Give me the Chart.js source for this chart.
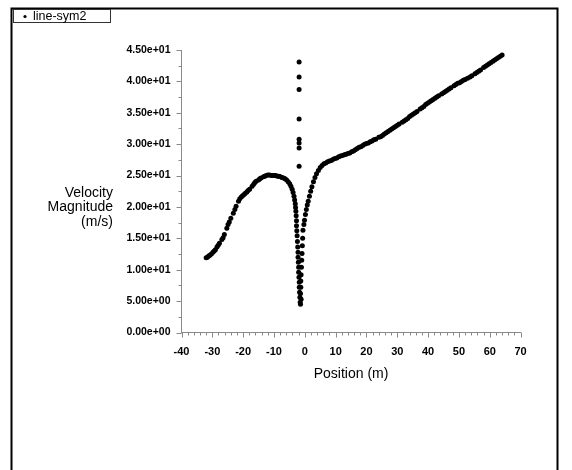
<!DOCTYPE html>
<html>
<head>
<meta charset="utf-8">
<script src="https://cdn.jsdelivr.net/npm/chart.js@4.4.1/dist/chart.umd.min.js"></script>
<style>
  body { margin: 0; background: #fff; }
  #wrap { position: relative; width: 572px; height: 470px; }
</style>
</head>
<body>
<div id="wrap"><canvas id="velChart" width="572" height="470"></canvas></div>
<script>
// position (m) / velocity magnitude (m/s)
const curveX = [
  -32.0, -31.6, -31.2, -30.8, -30.3, -29.8, -29.4, -29.0, -28.5, -28.1, -27.7, -26.9, -26.5, -26.1,
  -25.3, -24.9, -24.5, -24.0, -23.2, -22.7, -22.3, -21.5, -21.1, -20.6, -20.2, -19.7, -19.3, -18.8,
  -18.4, -17.9, -17.1, -16.6, -16.2, -15.8, -15.0, -14.6, -14.2, -13.4, -13.0, -12.5, -12.0, -11.4,
  -10.9, -10.4, -9.9, -9.4, -8.9, -8.4, -7.9, -7.4, -6.9, -6.4, -5.9, -5.4, -4.9, -4.5, -4.1, -3.8,
  -3.5, -3.3, -3.1, -3.0,
  -2.9, -2.8, -2.7, -2.7, -2.6, -2.5, -2.4, -2.3, -2.2, -2.2, -2.1, -2.0, -2.0, -1.9, -1.8, -1.8,
  -1.7, -1.6, -1.5, -1.4,
  -0.6, -0.7, -0.8, -0.9, -1.0, -1.1, -1.2, -1.3, -1.3, -1.4, -1.2,
  -0.3, -0.1, 0.2, 0.5, 0.8, 1.1, 1.5, 1.9, 2.3, 2.8, 3.3, 3.8, 4.4, 5.0, 5.6, 6.2, 6.8, 7.4, 8.0,
  8.6, 9.2, 9.8, 10.4, 11.0, 11.6, 12.2, 12.8, 13.4, 14.0, 14.6, 15.2, 15.8, 16.4, 17.0, 17.6, 18.2,
  18.8, 19.4, 20.0, 20.6, 21.2, 21.8, 22.4, 23.0, 24.0, 24.6, 25.2, 25.8, 26.4, 27.0, 27.6, 28.2,
  28.8, 29.4, 30.0, 30.6, 31.6, 32.2, 32.8, 33.4, 34.0, 34.6, 35.2, 35.8, 36.4, 37.4, 38.0, 38.6,
  39.2, 39.8, 40.4, 41.0, 41.6, 42.2, 42.8, 43.4, 44.4, 45.0, 45.6, 46.2, 46.8, 47.4, 48.4, 49.0,
  49.6, 50.2, 50.8, 51.4, 52.0, 52.8, 53.6, 54.2, 55.2, 55.8, 56.4, 57.0, 58.0, 58.6, 59.2, 59.8,
  60.4, 61.0, 61.6, 62.2, 62.8, 63.4, 64.0
];
const curveY = [
  11.9, 12.0, 12.2, 12.3, 12.5, 12.8, 13.0, 13.2, 13.6, 13.9, 14.2, 14.8, 15.1, 15.6,
  16.6, 17.2, 17.6, 18.2, 19.0, 19.6, 20.1, 20.9, 21.3, 21.6, 21.8, 22.0, 22.2, 22.4,
  22.6, 22.8, 23.3, 23.6, 23.9, 24.1, 24.3, 24.5, 24.6, 24.8, 24.9, 25.0, 25.1, 25.1,
  25.0, 25.0, 25.0, 25.0, 24.9, 24.9, 24.8, 24.7, 24.6, 24.5, 24.3, 24.0, 23.7, 23.3, 22.8, 22.3,
  21.7, 21.1, 20.5, 19.9,
  19.3, 18.6, 17.8, 17.0, 16.2, 15.4, 14.5, 13.6, 12.8, 12.0, 11.2, 10.4, 9.6, 8.8, 8.0, 7.2,
  6.4, 5.6, 4.8, 4.5,
  16.3, 15.0, 13.8, 12.6, 11.5, 10.4, 9.2, 8.2, 7.2, 6.2, 5.3,
  17.2, 17.9, 18.8, 19.6, 20.3, 20.9, 21.7, 22.5, 23.2, 24.0, 24.7, 25.3, 25.8, 26.3, 26.6, 26.9, 27.0, 27.2, 27.3,
  27.4, 27.6, 27.7, 27.8, 28.0, 28.1, 28.2, 28.3, 28.4, 28.5, 28.6, 28.8, 28.9, 29.1, 29.3, 29.5, 29.6,
  29.8, 30.0, 30.1, 30.2, 30.4, 30.5, 30.7, 30.8, 31.1, 31.2, 31.4, 31.6, 31.8, 32.0, 32.2, 32.4,
  32.6, 32.8, 33.0, 33.2, 33.5, 33.7, 33.9, 34.1, 34.4, 34.6, 34.8, 35.0, 35.2, 35.6, 35.8, 36.0,
  36.3, 36.5, 36.7, 36.9, 37.1, 37.3, 37.5, 37.7, 38.0, 38.2, 38.4, 38.6, 38.8, 39.0, 39.3, 39.5,
  39.7, 39.8, 40.0, 40.2, 40.3, 40.5, 40.7, 40.9, 41.2, 41.4, 41.6, 41.8, 42.2, 42.4, 42.6, 42.8,
  43.0, 43.2, 43.4, 43.6, 43.8, 44.0, 44.2
];
// isolated points above the dip
const spikeX = [-1.85, -1.85, -1.85, -1.85, -1.85, -1.85, -1.85, -1.85];
const spikeY = [43.1, 40.7, 38.7, 34.0, 30.8, 30.2, 29.4, 26.5];

const legendLabel = "line-sym2";
const xTitle = "Position (m)";
const yTitleLines = ["Velocity", "Magnitude", "(m/s)"];

const axisColor = "#8a8a8a";

function toPoints(xs, ys) {
    return xs.map((x, i) => ({ x: x, y: ys[i] }));
}

function sciLabel(v) {
    // 45 -> 4.50e+01
    return Number(v).toExponential(2).replace(/e([+-])(\d)$/, "e$10$2");
}

const extras = {
    id: "extras",
    afterDraw(chart) {
        const ctx = chart.ctx;
        const xs = chart.scales.x;
        const ys = chart.scales.y;
        const base = ys.getPixelForValue(0);
        const left = xs.getPixelForValue(-40);

        ctx.save();
        ctx.strokeStyle = axisColor;
        ctx.lineWidth = 1;
        ctx.beginPath();
        for (let v = -40; v <= 70; v += 2) {
            const px = Math.round(xs.getPixelForValue(v)) + 0.5;
            const len = v % 10 === 0 ? 5 : 3;
            ctx.moveTo(px, base);
            ctx.lineTo(px, base + len);
        }
        for (let v = 0; v <= 45; v += 2.5) {
            const py = Math.round(ys.getPixelForValue(v)) + 0.5;
            const len = v % 5 === 0 ? 5 : 3;
            ctx.moveTo(left, py);
            ctx.lineTo(left - len, py);
        }
        ctx.stroke();

        // axis titles
        ctx.fillStyle = "#000";
        ctx.font = "14px Arial";
        ctx.textBaseline = "middle";
        ctx.textAlign = "center";
        ctx.fillText(xTitle, (xs.left + xs.right) / 2, 374);
        ctx.textAlign = "right";
        yTitleLines.forEach((t, i) => ctx.fillText(t, 113, 193 + i * 14.5));

        // outer frame
        ctx.strokeStyle = "#000";
        ctx.lineWidth = 2;
        ctx.beginPath();
        ctx.moveTo(11.5, 470);
        ctx.lineTo(11.5, 8.5);
        ctx.lineTo(557.5, 8.5);
        ctx.lineTo(557.5, 470);
        ctx.stroke();

        // legend box
        ctx.lineWidth = 1;
        ctx.strokeStyle = "#333";
        ctx.fillStyle = "#fff";
        ctx.fillRect(13.5, 9.5, 97, 13);
        ctx.strokeRect(13.5, 9.5, 97, 13);
        ctx.fillStyle = "#000";
        ctx.beginPath();
        ctx.arc(25, 16.5, 1.6, 0, Math.PI * 2);
        ctx.fill();
        ctx.font = "12.5px Arial";
        ctx.textAlign = "left";
        ctx.fillText(legendLabel, 33, 16.5);
        ctx.restore();
    }
};

const ctx = document.getElementById("velChart").getContext("2d");

new Chart(ctx, {
    type: "scatter",
    data: {
        datasets: [
            {
                label: legendLabel,
                data: toPoints(curveX, curveY),
                backgroundColor: "#000",
                borderWidth: 0,
                pointRadius: 2.5
            },
            {
                label: legendLabel,
                data: toPoints(spikeX, spikeY),
                backgroundColor: "#000",
                borderWidth: 0,
                pointRadius: 2.5
            }
        ]
    },
    options: {
        responsive: false,
        animation: false,
        layout: { padding: { left: 0, top: 50, right: 51.4, bottom: 0 } },
        plugins: {
            legend: { display: false },
            tooltip: { enabled: false }
        },
        scales: {
            x: {
                type: "linear",
                min: -40,
                max: 70,
                grid: { display: false, drawTicks: false },
                border: { display: true, color: axisColor, width: 1 },
                ticks: {
                    stepSize: 10,
                    autoSkip: false,
                    maxRotation: 0,
                    padding: 13,
                    color: "#000",
                    font: { family: "Arial", size: 11, weight: "bold" },
                    callback: v => String(v)
                },
                afterFit: s => { s.height = 137.5; }
            },
            y: {
                type: "linear",
                min: 0,
                max: 45,
                grid: { display: false, drawTicks: false },
                border: { display: true, color: axisColor, width: 1 },
                ticks: {
                    stepSize: 5,
                    autoSkip: false,
                    padding: 11,
                    color: "#000",
                    font: { family: "Arial", size: 10.5, weight: "bold" },
                    callback: v => sciLabel(v)
                },
                afterFit: s => { s.width = 181.5; }
            }
        }
    },
    plugins: [extras]
});
</script>
</body>
</html>
